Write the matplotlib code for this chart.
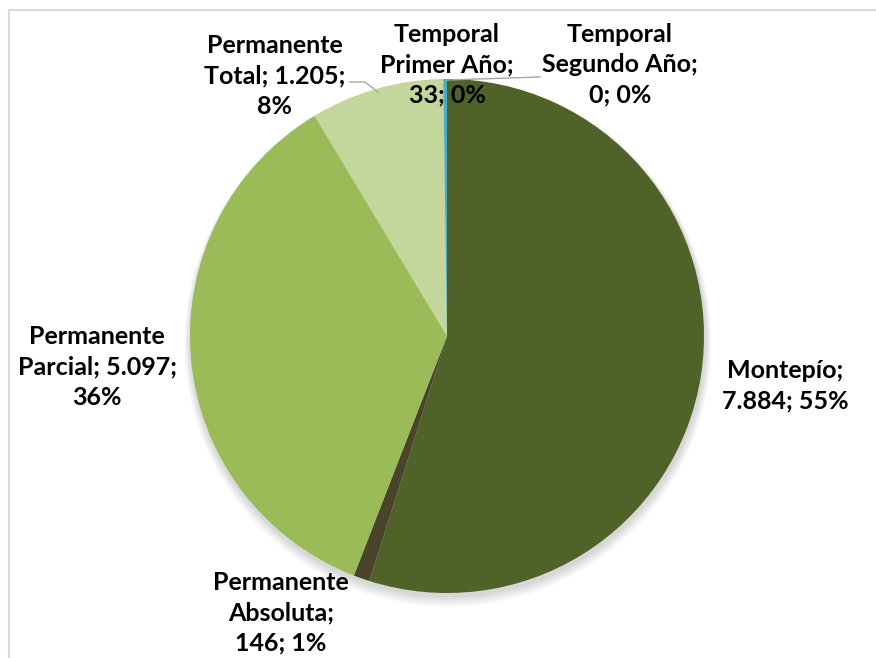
import matplotlib
matplotlib.use("Agg")
import matplotlib.pyplot as plt
from matplotlib.patches import Rectangle, Circle

# Data
categories = ["Montepío", "Permanente Absoluta", "Permanente Parcial",
              "Permanente Total", "Temporal Primer Año", "Temporal Segundo Año"]
values = [7884, 146, 5097, 1205, 33, 0]
percents = ["55%", "1%", "36%", "8%", "0%", "0%"]
label_texts = [
    "Montepío;\n7.884; 55%",
    "Permanente\nAbsoluta;\n146; 1%",
    "Permanente\nParcial; 5.097;\n36%",
    "Permanente\nTotal; 1.205;\n8%",
    "Temporal\nPrimer Año;\n33; 0%",
    "Temporal\nSegundo Año;\n0; 0%",
]
colors = ["#4F6228", "#4A452A", "#9BBB59", "#C3D69B", "#4BACC6", "#2C4D75"]

W, H = 876, 658
fig = plt.figure(figsize=(W / 100, H / 100), dpi=100)
ax = fig.add_axes([0, 0, 1, 1])

plt.rcParams["font.family"] = ["Lato", "DejaVu Sans"]

cx, cy, r = 447, H - 336, 257

# soft shadow
for i in range(8):
    ax.add_patch(Circle((cx + 1, cy - 3 - i * 0.6), r + 1 + i * 0.8,
                        color="black", alpha=0.018, lw=0, zorder=1))

ax.pie(values, colors=colors, startangle=90, counterclock=False,
       center=(cx, cy), radius=r, frame=True,
       wedgeprops=dict(linewidth=0, zorder=2))
ax.set_xlim(0, W)
ax.set_ylim(0, H)
ax.set_aspect("equal")
ax.axis("off")

# chart area border
ax.add_patch(Rectangle((9, -20), W + 20, H - 10 + 20, fill=False,
                       edgecolor="#D9D9D9", lw=1.5, zorder=0))

# label positions (pixel centers)
label_pos = [(785, 386), (281, 613), (97, 367), (275, 76), (447, 65), (620, 65)]
for txt, (x, y) in zip(label_texts, label_pos):
    ax.text(x, H - y, txt, ha="center", va="center", fontsize=18,
            fontweight="bold", color="#000000", linespacing=1.38, zorder=5)

# leader lines
ax.plot([350, 365, 378], [H - 82, H - 82, H - 92], color="#A6A6A6", lw=1, zorder=4)
ax.plot([447, 540], [H - 80, H - 77], color="#A6A6A6", lw=1, zorder=4)

fig.savefig("out.png", dpi=100)
